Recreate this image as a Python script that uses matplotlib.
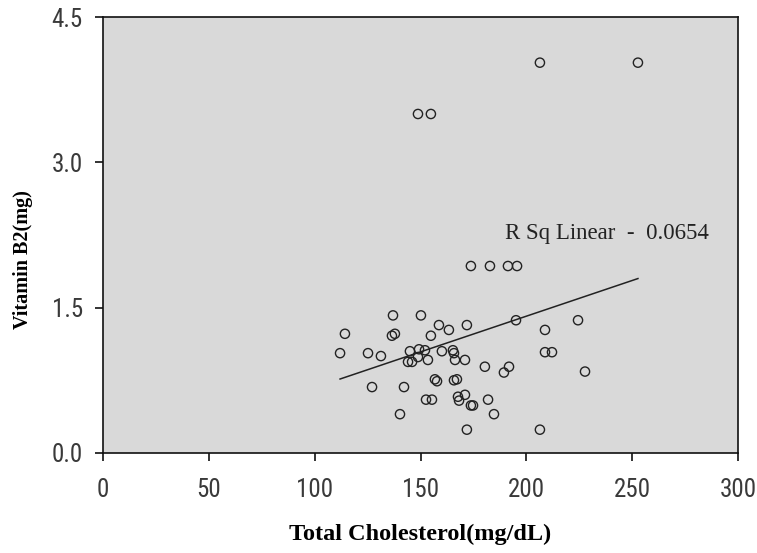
import numpy as np
import matplotlib
matplotlib.use('Agg')
import matplotlib.pyplot as plt
from matplotlib import font_manager

# values
cholesterol = [206.4, 252.7, 148.8, 154.9, 173.8, 182.8, 191.3, 195.6,
               137.0, 150.2, 114.3, 136.5, 137.9, 154.9, 158.7, 163.4,
               171.9, 195.1, 112.0, 125.2, 131.3, 145.0, 149.3, 152.1,
               144.1, 146.0, 148.8, 153.5, 160.1, 165.3, 165.8, 166.3,
               171.0, 180.4, 189.4, 191.8, 127.1, 142.2, 156.8, 157.8,
               165.8, 167.2, 152.6, 155.4, 167.7, 171.0, 168.2, 173.8,
               174.8, 181.9, 184.7, 140.3, 171.9, 224.4, 208.8, 208.8,
               212.1, 227.7, 206.4]
vitamin_b2 = [4.03, 4.03, 3.50, 3.50, 1.93, 1.93, 1.93, 1.93,
              1.42, 1.42, 1.23, 1.21, 1.23, 1.21, 1.32, 1.27,
              1.32, 1.37, 1.03, 1.03, 1.00, 1.05, 1.07, 1.06,
              0.94, 0.94, 0.99, 0.96, 1.05, 1.06, 1.03, 0.96,
              0.96, 0.89, 0.83, 0.89, 0.68, 0.68, 0.76, 0.74,
              0.75, 0.76, 0.55, 0.55, 0.58, 0.60, 0.54, 0.49,
              0.49, 0.55, 0.40, 0.40, 0.24, 1.37, 1.27, 1.04,
              1.04, 0.84, 0.24]
x_ticks = [0, 50, 100, 150, 200, 250, 300]
y_ticks = [0.0, 1.5, 3.0, 4.5]
r_sq_text = 'R Sq Linear  -  0.0654'

# narrow font for the tick numbers if one is installed, else serif
names = {f.name for f in font_manager.fontManager.ttflist}
tick_font = 'Liberation Serif'
tick_size = 16
for cand in ['Liberation Sans Narrow', 'Arial Narrow', 'Roboto Condensed']:
    if cand in names:
        tick_font, tick_size = cand, 18
        break

x = np.array(cholesterol)
y = np.array(vitamin_b2)
slope, intercept = np.polyfit(x, y, 1)

fig = plt.figure(figsize=(7.57, 5.53), dpi=100)
ax = fig.add_axes([0.136, 0.181, 0.839, 0.788])
ax.set_facecolor('#d9d9d9')

ax.scatter(x, y, s=44, facecolors='none', edgecolors='#222222', linewidths=1.0, zorder=3)
xs = np.array([x.min(), x.max()])
ax.plot(xs, slope * xs + intercept, color='#222222', lw=1.1, zorder=2)

ax.set_xlim(0, 300)
ax.set_ylim(0, 4.5)
ax.set_xticks(x_ticks)
ax.set_yticks(y_ticks)
ax.set_xticklabels([str(t) for t in x_ticks])
ax.set_yticklabels(['%.1f' % t for t in y_ticks])
ax.tick_params(direction='out', length=6, width=1.2, colors='#111111',
               labelcolor='#3a3a3a', labelsize=tick_size)
ax.tick_params(axis='x', pad=12)
ax.tick_params(axis='y', pad=8.5)
for lab in ax.get_xticklabels() + ax.get_yticklabels():
    lab.set_family(tick_font)
for sp in ax.spines.values():
    sp.set_linewidth(1.2)
    sp.set_color('#111111')

ax.set_xlabel('Total Cholesterol(mg/dL)', family='Liberation Serif', fontweight='bold',
              fontsize=17.5)
ax.xaxis.set_label_coords(0.5, -0.162)
ax.set_ylabel('Vitamin B2(mg)', family='Liberation Serif', fontweight='bold',
              fontsize=14.5)
ax.yaxis.set_label_coords(-0.110, 0.443)

ax.text(190, 2.27, r_sq_text, family='Liberation Serif', fontsize=16.5,
        color='#222222', va='center', ha='left')

fig.savefig('out.png', dpi=100)
